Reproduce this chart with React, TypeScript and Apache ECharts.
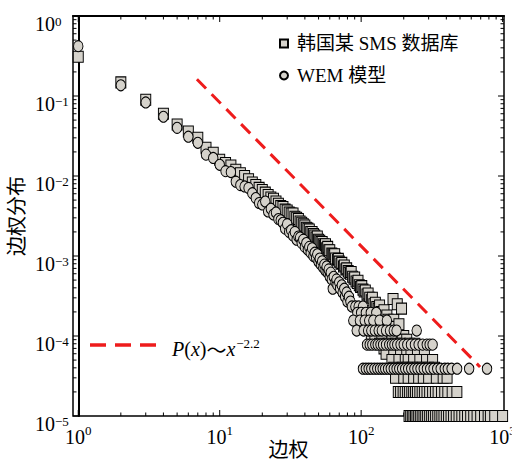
import React, { useEffect, useRef } from 'react';
import * as echarts from 'echarts';

// ---------------- data ----------------
const SERIES_NAMES = ['韩国某 SMS 数据库', 'WEM 模型'];
const AXIS_NAMES = ['边权', '边权分布'];

// Korean SMS database (squares) – main body
const SMS_X = [
  1, 2, 3, 4, 5, 6, 7, 8, 9, 10, 11, 12, 13, 14, 15, 16, 17, 18, 19, 20,
  21, 22, 23, 24, 25, 26, 27, 28, 29, 30, 31, 32, 33, 34, 35, 36, 37, 38, 39, 40,
  41, 42, 43, 44, 45, 46, 47, 48, 49, 50, 51, 52, 53, 54, 55, 56, 57, 58, 59, 60,
  62, 63, 64, 65, 66, 68, 69, 70, 72, 73, 75, 76, 78, 79, 81, 82, 84, 85, 87, 89,
  90, 92, 94, 95, 97, 99, 101, 103, 105, 107, 110, 112, 115, 118, 120, 123, 126, 129, 132, 135,
  138, 141, 145, 148, 152, 155, 160, 165, 168, 170, 175, 180, 185, 193,
];
const SMS_Y = [
  0.31, 0.148, 0.09, 0.06, 0.044, 0.036, 0.03, 0.0225, 0.0195, 0.016, 0.0145, 0.0135, 0.012, 0.0108, 0.01, 0.0091, 0.0083, 0.0077, 0.0071, 0.0067,
  0.0062, 0.0058, 0.0054, 0.0052, 0.0048, 0.0045, 0.0042, 0.0041, 0.0038, 0.0037, 0.0035, 0.0034, 0.0034, 0.0031, 0.003, 0.0029, 0.0027, 0.0026, 0.0025, 0.0024,
  0.00225, 0.0022, 0.00215, 0.002, 0.002, 0.00188, 0.0018, 0.0017, 0.00175, 0.0016, 0.00155, 0.0015, 0.0015, 0.0014, 0.00135, 0.0014, 0.00125, 0.0013, 0.00118, 0.00118,
  0.00107, 0.00104, 0.001, 0.00105, 0.00093, 0.0009, 0.00092, 0.00085, 0.0008, 0.00082, 0.00074, 0.00076, 0.00068, 0.0007, 0.00065, 0.00062, 0.0006, 0.00063, 0.00055, 0.00052,
  0.00054, 0.00048, 0.00046, 0.00049, 0.00043, 0.00041, 0.00042, 0.00038, 0.00036, 0.00037, 0.00033, 0.00034, 0.0003, 0.00028, 0.0003, 0.00025, 0.00026, 0.00023, 0.00022, 0.00024,
  0.0002, 0.00019, 0.00021, 0.00017, 0.00018, 0.00016, 0.00015, 0.00014, 0.00029, 0.00016, 0.00013, 0.00025, 0.00014, 0.00022,
];
// Korean SMS database – quantised tail (one row per level)
const SMS_TAIL_LEVELS = [1e-4, 9e-5, 8e-5, 7e-5, 6e-5, 5e-5, 4e-5, 3e-5, 2e-5, 1e-5];
const SMS_TAIL_X = [
  [118, 130, 150, 172, 200],
  [125, 140, 165, 195, 210],
  [135, 155, 175, 190, 220, 240],
  [145, 160, 180, 200, 230, 260],
  [150, 170, 190, 210, 225, 250, 280],
  [165, 185, 205, 215, 235, 260, 290, 320],
  [170, 195, 210, 230, 250, 270, 300, 330],
  [175, 200, 215, 235, 255, 275, 300, 340, 380, 405],
  [183, 190, 198, 205, 213, 220, 228, 235, 242, 250, 260, 270, 280, 292, 305, 320, 335, 350, 370, 390, 410, 440, 475],
  [218, 224, 230, 236, 242, 248, 255, 262, 270, 278, 286, 295, 305, 315, 325, 336, 348, 360, 372, 385, 400, 415, 432, 450, 470, 492, 515, 540, 565, 595, 625, 660, 700, 745, 790, 820, 880, 1000],
];

// WEM model (circles) – main body
const WEM_X = [
  1, 2, 3, 4, 5, 6, 7, 8, 9, 10, 11, 12, 13, 14, 15, 16, 17, 18, 19, 20,
  21, 22, 23, 24, 25, 26, 27, 28, 29, 30, 31, 32, 33, 34, 35, 36, 37, 38, 39, 40,
  41, 42, 43, 44, 45, 46, 47, 48, 49, 50, 51, 52, 53, 54, 55, 56, 57, 58, 59, 60,
  61, 62, 63, 64, 66, 67, 68, 70, 71, 73, 74, 76, 77, 79, 80, 82, 84,
];
const WEM_Y = [
  0.42, 0.136, 0.083, 0.055, 0.04, 0.031, 0.026, 0.0185, 0.0168, 0.0138, 0.0115, 0.0112, 0.0085, 0.0077, 0.0074, 0.0071, 0.0061, 0.0053, 0.0046, 0.0044,
  0.0048, 0.0036, 0.0039, 0.0033, 0.0035, 0.0029, 0.0028, 0.0026, 0.0022, 0.0025, 0.002, 0.0021, 0.0018, 0.002, 0.0016, 0.00175, 0.0017, 0.00145, 0.0016, 0.0013,
  0.00145, 0.0012, 0.0013, 0.0011, 0.00125, 0.001, 0.0011, 0.00095, 0.00105, 0.00085, 0.00093, 0.00078, 0.00086, 0.00072, 0.00078, 0.00066, 0.00074, 0.00062, 0.00068, 0.00055,
  0.00062, 0.00051, 0.00039, 0.00055, 0.00047, 0.00051, 0.00043, 0.00047, 0.00039, 0.00043, 0.00035, 0.00039, 0.00031, 0.00035, 0.00027, 0.00031, 0.00027,
];
// WEM model – quantised tail
const WEM_TAIL_LEVELS = [2.34e-4, 1.95e-4, 1.56e-4, 1.17e-4, 7.8e-5, 3.9e-5];
const WEM_TAIL_X = [
  [86, 91, 96, 103],
  [94, 100, 108, 117, 128],
  [88, 98, 106, 114, 122, 135, 152],
  [93, 104, 112, 118, 125, 133, 140, 150, 160, 170, 178, 247],
  [110, 115, 120, 126, 131, 137, 143, 150, 158, 165, 172, 180, 190, 200, 212, 225, 240, 255, 272, 291, 305, 320],
  [103, 108, 113, 118, 124, 130, 136, 142, 148, 155, 162, 170, 178, 186, 195, 205, 215, 226, 238, 250, 263, 277, 292, 308, 325, 345, 365, 390, 410, 436, 477, 580, 776],
];

// power-law guide line P(x) ~ x^-2.2
const FIT_X = [6.9, 693];
const FIT_Y = [0.162, 4.1e-5];

// axes
const X_RANGE = [0.918, 1023];
const Y_RANGE = [1e-5, 1];
const X_DECADES = [0, 1, 2, 3];
const Y_DECADES = [-5, -4, -3, -2, -1, 0];
const MINOR_MULT = [2, 3, 4, 5, 6, 7, 8, 9];

// ---------------- helpers ----------------
const LG = (v: number) => Math.log10(v);
const SERIF = 'Liberation Serif';
const CJK = 'Liberation Serif, Noto Sans CJK SC';
const RED = '#ee1c1c';
const FILL = '#d5d2cb';

function pairs(xs: number[], ys: number[]) {
  return xs.map((x, i) => [LG(x), LG(ys[i])]);
}
function tailPairs(levels: number[], rows: number[][]) {
  const out: number[][] = [];
  rows.forEach((row, r) => row.forEach((x) => out.push([LG(x), LG(levels[r])])));
  return out;
}
const expText = (v: number) => {
  const e = Math.round(v);
  return e < 0 ? '\u2212' + Math.abs(e) : String(e);
};

export default function App() {
  const ref = useRef<HTMLDivElement>(null);

  useEffect(() => {
    if (!ref.current) return;
    const chart = echarts.init(ref.current, undefined, { renderer: 'svg' });

    const xMin = LG(X_RANGE[0]);
    const xMax = LG(X_RANGE[1]);
    const yMin = LG(Y_RANGE[0]);
    const yMax = LG(Y_RANGE[1]);

    // tick marks: [x, y, kind(0=x,1=y), major]
    const ticks: number[][] = [];
    X_DECADES.forEach((d) => {
      ticks.push([d, yMin, 0, 1]);
      if (d < 3) MINOR_MULT.forEach((m) => ticks.push([d + LG(m), yMin, 0, 0]));
    });
    Y_DECADES.forEach((d) => {
      ticks.push([xMin, d, 1, 1]);
      if (d < 0) MINOR_MULT.forEach((m) => ticks.push([xMin, d + LG(m), 1, 0]));
    });

    const smsData = pairs(SMS_X, SMS_Y).concat(tailPairs(SMS_TAIL_LEVELS, SMS_TAIL_X));
    const wemData = pairs(WEM_X, WEM_Y).concat(tailPairs(WEM_TAIL_LEVELS, WEM_TAIL_X));

    const richX = {
      b: { fontSize: 20, fontFamily: SERIF, color: '#000', lineHeight: 22, padding: [8, 0, 0, 0] },
      s: { fontSize: 13, fontFamily: SERIF, color: '#000', lineHeight: 13, verticalAlign: 'top', padding: [2, 0, 0, 0] },
    };
    const richY = {
      b: { fontSize: 20, fontFamily: SERIF, color: '#000', lineHeight: 22, padding: [8, 0, 0, 0] },
      s: { fontSize: 13, fontFamily: SERIF, color: '#000', lineHeight: 13, verticalAlign: 'top', padding: [6, 0, 0, 0] },
    };

    const option: any = {
      animation: false,
      backgroundColor: '#fff',
      textStyle: { fontFamily: SERIF },
      grid: {
        left: 73, top: 16, width: 431, height: 400,
        containLabel: false,
        outerBoundsMode: 'none',
        show: true, borderColor: '#000', borderWidth: 1.5, backgroundColor: 'transparent',
      },
      legend: {
        data: [
          { name: SERIES_NAMES[0], icon: 'rect' },
          { name: SERIES_NAMES[1], icon: 'circle' },
        ],
        orient: 'vertical',
        left: 274,
        top: 29,
        itemWidth: 8,
        itemHeight: 8,
        itemGap: 13,
        textStyle: { fontSize: 19, fontFamily: CJK, color: '#000', padding: [0, 0, 0, 4] },
      },
      xAxis: {
        type: 'value',
        min: xMin,
        max: xMax,
        axisLine: { show: true, lineStyle: { color: '#000', width: 2 } },
        axisTick: { show: false },
        splitLine: { show: false },
        axisLabel: {
          customValues: X_DECADES,
          formatter: (v: number) => `{b|10}{s|${expText(v)}}`,
          margin: 6,
          verticalAlign: 'top',
          rich: richX,
        },
        name: AXIS_NAMES[0],
        nameLocation: 'middle',
        nameGap: 24,
        nameMoveOverlap: false,
        nameTextStyle: { fontSize: 20, fontFamily: CJK, color: '#000' },
      },
      yAxis: {
        type: 'value',
        min: yMin,
        max: yMax,
        axisLine: { show: true, lineStyle: { color: '#000', width: 2 } },
        axisTick: { show: false },
        splitLine: { show: false },
        axisLabel: {
          customValues: Y_DECADES,
          formatter: (v: number) => `{b|10}{s|${expText(v)}}`,
          margin: 38,
          align: 'left',
          padding: [8, 0, 0, 0],
          rich: richY,
        },
        name: AXIS_NAMES[1],
        nameLocation: 'middle',
        nameGap: 46,
        nameRotate: 90,
        nameMoveOverlap: false,
        nameTextStyle: { fontSize: 20, fontFamily: CJK, color: '#000' },
      },
      series: [
        {
          type: 'custom',
          name: 'ticks',
          silent: true,
          clip: false,
          z: 1,
          data: ticks,
          encode: { x: 0, y: 1 },
          renderItem: (params: any, api: any) => {
            const cs = params.coordSys;
            const kind = api.value(2);
            const len = api.value(3) ? 6 : 3.5;
            const style = { stroke: '#000', lineWidth: 1 };
            if (kind === 0) {
              const px = api.coord([api.value(0), yMin])[0];
              return {
                type: 'group',
                children: [
                  { type: 'line', shape: { x1: px, y1: cs.y + cs.height, x2: px, y2: cs.y + cs.height - len }, style },
                  { type: 'line', shape: { x1: px, y1: cs.y, x2: px, y2: cs.y + len }, style },
                ],
              };
            }
            const py = api.coord([xMin, api.value(1)])[1];
            return {
              type: 'group',
              children: [
                { type: 'line', shape: { x1: cs.x, y1: py, x2: cs.x + len, y2: py }, style },
                { type: 'line', shape: { x1: cs.x + cs.width, y1: py, x2: cs.x + cs.width - len, y2: py }, style },
              ],
            };
          },
        },
        {
          type: 'line',
          name: 'fit',
          data: pairs(FIT_X, FIT_Y),
          symbol: 'none',
          silent: true,
          z: 3,
          lineStyle: { color: RED, width: 3, type: [13, 8] },
        },
        {
          type: 'scatter',
          name: SERIES_NAMES[0],
          data: smsData,
          symbol: 'rect',
          symbolSize: [10, 11],
          clip: false,
          z: 4,
          itemStyle: { color: FILL, borderColor: '#000', borderWidth: 1, opacity: 1 },
        },
        {
          type: 'scatter',
          name: SERIES_NAMES[1],
          data: wemData,
          symbol: 'circle',
          symbolSize: [9.5, 11],
          clip: false,
          z: 5,
          itemStyle: { color: FILL, borderColor: '#000', borderWidth: 1, opacity: 1 },
        },
      ],
      graphic: [
        {
          type: 'line',
          shape: { x1: 90, y1: 345, x2: 158, y2: 345 },
          style: { stroke: RED, lineWidth: 3.5, lineDash: [16, 9] },
          z: 10,
        },
        {
          type: 'text',
          x: 172,
          y: 346,
          z: 10,
          style: {
            text: '{i|P}{n|(}{i|x}{n|)}{t|～}{i|x}{s|\u22122.2}',
            verticalAlign: 'middle',
            rich: {
              i: { fontSize: 20, fontStyle: 'italic', fontFamily: SERIF, color: '#000', lineHeight: 22, padding: [6, 0, 0, 0] },
              n: { fontSize: 20, fontFamily: SERIF, color: '#000', lineHeight: 22, padding: [6, 0, 0, 0] },
              t: { fontSize: 20, fontFamily: 'Noto Sans CJK SC', color: '#000', lineHeight: 22, padding: [6, 0, 0, 0] },
              s: { fontSize: 13, fontFamily: SERIF, color: '#000', lineHeight: 13, verticalAlign: 'top', padding: [2, 0, 0, 1] },
            },
          },
        },
      ],
    };

    chart.setOption(option);
    return () => chart.dispose();
  }, []);

  return (
    <div
      ref={ref}
      style={{ position: 'absolute', left: 0, top: 0, width: 512, height: 462, background: '#fff' }}
    />
  );
}
